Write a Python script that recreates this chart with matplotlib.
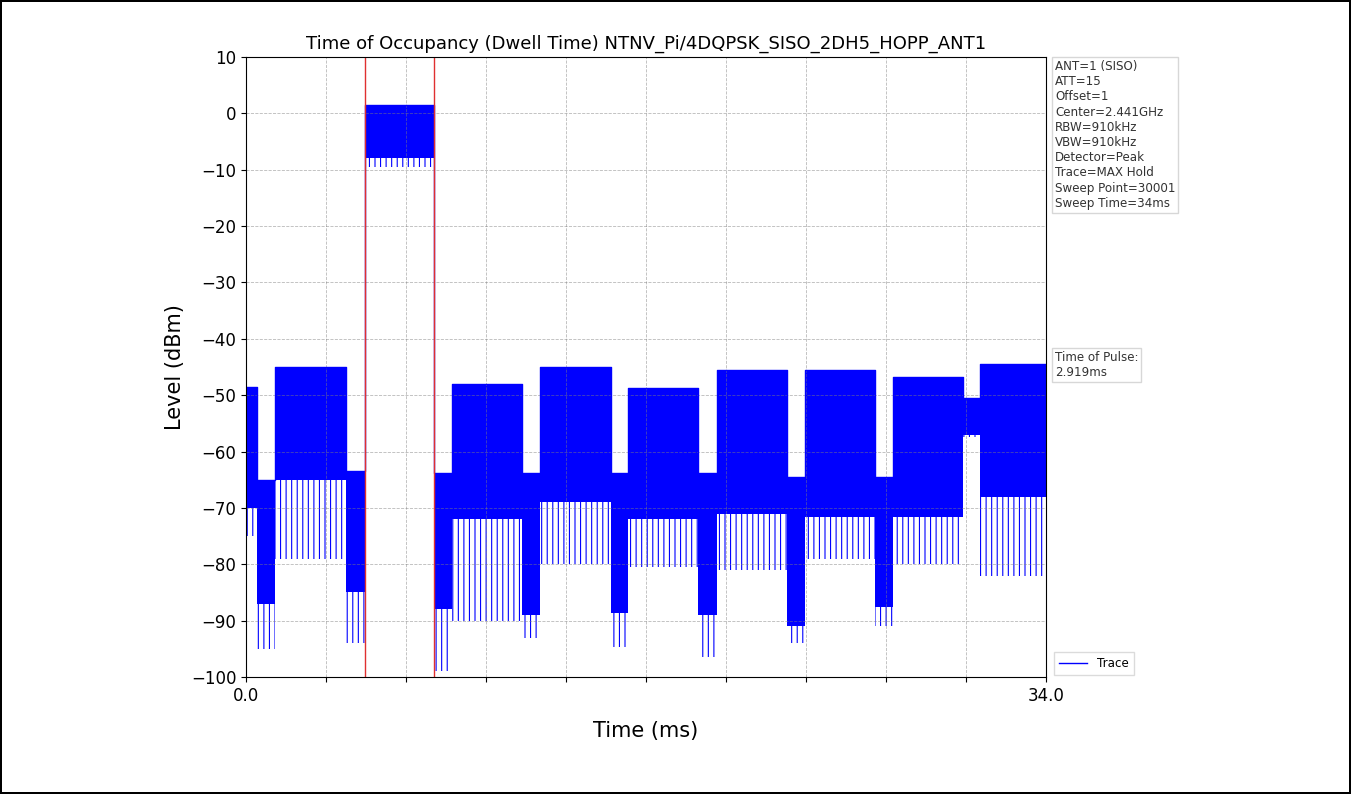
import matplotlib
matplotlib.use("Agg")
import matplotlib.pyplot as plt
import numpy as np

# segment boundaries of the trace (ms) and level envelopes (dBm)
seg_edges = [0.0, 0.47, 1.23, 4.25, 5.06, 7.98, 8.75, 11.73, 12.49, 15.51,
             16.23, 19.21, 20.02, 23.0, 23.76, 26.73, 27.5, 30.47, 31.2, 34.0]
seg_top = [-48.5, -65.0, -45.0, -63.5, 1.5, -63.8, -48.0, -63.8, -45.0, -63.8,
           -48.7, -63.8, -45.5, -64.5, -45.5, -64.5, -46.8, -50.5, -44.5]
seg_core_bottom = [-70.0, -87.0, -65.0, -85.0, -8.0, -88.0, -72.0, -89.0, -69.0, -88.6,
                   -72.0, -89.0, -71.0, -91.0, -71.6, -87.6, -71.6, -57.0, -68.0]
seg_spike_bottom = [-75.0, -95.0, -79.0, -94.0, -9.5, -99.0, -90.0, -93.0, -80.0, -94.7,
                    -80.5, -96.5, -81.0, -94.0, -79.0, -91.0, -80.0, -57.5, -82.0]

pulse_start = 5.06
pulse_len = 2.919
sweep_time = 34.0

settings = ["ANT=1 (SISO)", "ATT=15", "Offset=1", "Center=2.441GHz", "RBW=910kHz",
            "VBW=910kHz", "Detector=Peak", "Trace=MAX Hold", "Sweep Point=30001",
            "Sweep Time=34ms"]

plt.rcParams["hatch.linewidth"] = 0.8
plt.rcParams["hatch.color"] = "blue"

W, H = 1351, 794
fig = plt.figure(figsize=(W / 100, H / 100), dpi=100)
fig.patch.set_edgecolor("black")
fig.patch.set_linewidth(1.5)
ax = fig.add_axes([246 / W, 1 - 677 / H, 800 / W, 620 / H])

# dense core of each burst / gap
ax.stairs(seg_top, seg_edges, baseline=seg_core_bottom, fill=True,
          color="blue", lw=0)
# sparse spikes below the core
ax.stairs(seg_core_bottom, seg_edges, baseline=seg_spike_bottom, fill=True,
          facecolor="none", edgecolor="blue", hatch="|||", lw=0)
ax.step(seg_edges, seg_top + [seg_top[-1]], where="post", color="blue",
        lw=1, label="Trace")

ax.axvline(pulse_start, color="#e03030", lw=1)
ax.axvline(pulse_start + pulse_len, color="#e03030", lw=1)

ax.set_xlim(0, sweep_time)
ax.set_ylim(-100, 10)
xt = np.linspace(0, sweep_time, 11)
ax.set_xticks(xt)
ax.set_xticklabels(["0.0"] + [""] * 9 + ["34.0"])
ax.set_yticks(np.arange(-100, 11, 10))
ax.tick_params(labelsize=12)
ax.grid(True, color="gray", linestyle="--", lw=0.6, alpha=0.55)

ax.set_title("Time of Occupancy (Dwell Time) NTNV_Pi/4DQPSK_SISO_2DH5_HOPP_ANT1",
             fontsize=13)
ax.set_xlabel("Time (ms)", fontsize=15, labelpad=12)
ax.set_ylabel("Level (dBm)", fontsize=15)

box = dict(boxstyle="square,pad=0.25", facecolor="white", edgecolor="lightgray", alpha=0.9)
fig.text(1055 / W, 1 - 60 / H, "\n".join(settings), fontsize=8.6, va="top",
         ha="left", color="#333333", bbox=box, linespacing=1.22)
fig.text(1055 / W, 1 - 351 / H, "Time of Pulse:\n" + f"{pulse_len:.3f}ms",
         fontsize=8.6, va="top", ha="left", color="#333333", bbox=box,
         linespacing=1.22)

fig.legend(loc="lower left", bbox_to_anchor=(1048 / W, 1 - 681 / H),
           fontsize=8.6, frameon=True, edgecolor="lightgray", fancybox=False,
           handlelength=2.4)

fig.savefig("out.png", dpi=100)
